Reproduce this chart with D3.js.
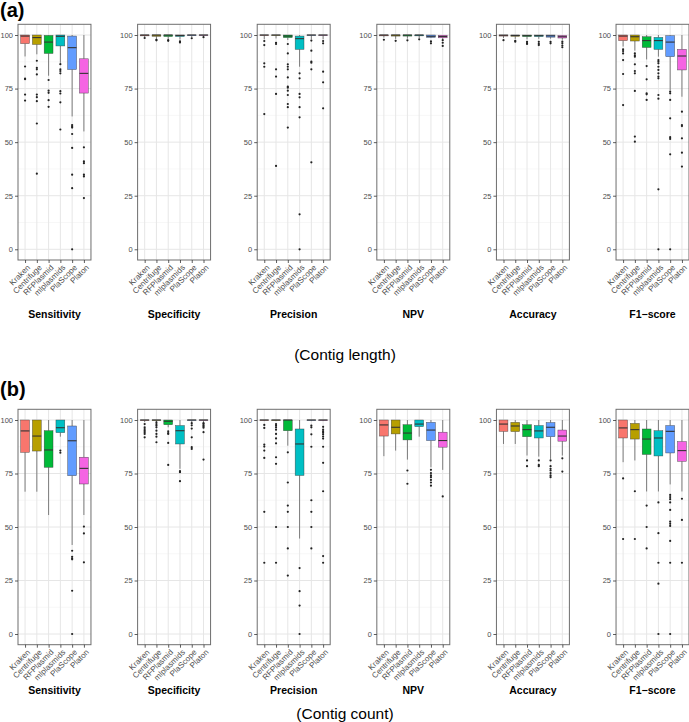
<!DOCTYPE html>
<html>
<head>
<meta charset="utf-8">
<script src="https://cdn.jsdelivr.net/npm/d3@7"></script>
<style>
  body { margin: 0; background: #fff; }
  text { font-family: "Liberation Sans", Arial, Helvetica, sans-serif; }
</style>
</head>
<body>
<script>
// ---------- categories ----------
const metrics = ["Sensitivity", "Specificity", "Precision", "NPV", "Accuracy", "F1\u2212score"];
const tools = ["Kraken", "Centrifuge", "RFPlasmid", "mlplasmids", "PlaScope", "Platon"];
const yTicks = [0, 25, 50, 75, 100];
const yMinor = [12.5, 37.5, 62.5, 87.5];
const toolColors = ["#F8766D", "#B79F00", "#00BA38", "#00BFC4", "#619CFF", "#F564E3"];

// ---------- (a) Contig length : [lowWhisker, Q1, median, Q3, highWhisker] per tool ----------
const lenSensStats = [[90,96,99.5,100,100],[91,95.6,98.8,100,100],[81,91.4,96.7,99.8,100],[87,94.9,99.4,100,100],[62,83.9,94.1,99.5,100],[55,72.9,82.1,88.9,100]];
const lenSensOut = [[85.3,79.7,79.4,72.2,69.4],[88,84.7,84,81.6,72.2,71,69.1,58.7,35.3],[79,74,73,69.6,66.5],[86.4,84,83.2,82.1,73.8,72.7,68.6,55.9],[58,57.4,56.8,53.8,47.3,34.8,28.5,0],[47.6,41,40.2,34.8,34,23.9]];

const lenSpecStats = [[98.9,99.6,100,100,100],[98.1,99.4,100,100,100],[98,99.3,100,100,100],[97.9,99.3,99.8,100,100],[98.9,99.7,100,100,100],[99.3,99.8,100,100,100]];
const lenSpecOut = [[98.6],[97.8,97.5],[97.6,97.3],[97,96.5],[98.5],[99.0]];

const lenPrecStats = [[98,99.8,100,100,100],[98.4,99.8,100,100,100],[97.7,98.8,99.5,100,100],[85.2,93.3,98.3,99.5,100],[98,99.8,100,100,100],[98,99.8,100,100,100]];
const lenPrecOut = [[97.2,95.3,86.8,85.2,63.1],[96.4,95.8,84,80.6,72.5,38.9],[95.8,91.4,86.3,85.2,84,80.2,75.9,75.4,74,72,67.8,66.3,56.8],[82.1,79.8,72.5,70.9,66.3,61.6,16.3,0],[97.4,92.7,87.6,87.1,84,40.6],[97.2,96.1,82.9,77.9,65.8]];

const lenNpvStats = [[98.8,99.6,100,100,100],[98.2,99.5,100,100,100],[98.3,99.5,100,100,100],[98.6,99.6,100,100,100],[98.6,98.9,99.4,100,100],[98,98.7,99.3,99.9,100]];
const lenNpvOut = [[97.8],[97.3],[97.5],[98],[97,96.1],[97.6,96.4,94.9]];

const lenAccStats = [[98.6,99.5,99.9,100,100],[98.2,99.4,99.8,100,100],[98,99.3,99.7,100,100],[98.2,99.3,99.7,100,100],[98.3,99.0,99.6,100,100],[97.8,98.6,99.2,99.8,100]];
const lenAccOut = [[97.6],[97.3,96.9],[96.8,96.2,95.8],[96.8,95.9,95.3],[96.8,96.1],[96.9,96.1,95.1,94.3]];

const lenF1Stats = [[94.6,97.4,99.5,100,100],[92.7,97.2,99.2,100,100],[88.6,94.2,97.4,99.2,100],[89.9,93.3,97.4,98.9,100],[74.3,89.9,96.7,99.7,100],[71.2,83.7,90.2,93.3,100]];
const lenF1Out = [[93.3,92.5,91.4,88.3,81.8,67.3],[91.4,90.5,89.9,86.3,83.2,82.1,73.9,52.6,50.2],[85.5,79.3,72.8,72.3,69.7],[88.3,87.6,86.8,85.2,83.7,82.1,80.6,79.8,72,70.3,28,0],[73.6,72.8,69.7,61.1,52.3,51.5,44.3,0],[64.2,58,57.5,51.8,45.1,38.6]];

// ---------- (b) Contig count ----------
const cntSensStats = [[66.5,84.9,94.9,100,100],[66.5,85.5,92.5,100,100],[55.6,77.9,86,95,100],[92.2,94.1,96.4,100,100],[41.6,74,90.3,97.2,100],[55.6,70.1,77.4,82.6,100]];
const cntSensOut = [[],[],[],[85.7,84.7],[38.9,36.1,35.4,34.9,20.2,0],[50.2,47,33.5]];

const cntSpecStats = [[99,99.8,100,100,100],[99,99.8,100,100,100],[96.6,97.8,99.4,100,100],[77.2,88.8,95,97.4,100],[99,99.8,100,100,100],[99,99.8,100,100,100]];
const cntSpecOut = [[98.1,96.6,95.8,95,94.3,93.5,91.9],[98.9,98.1,97.4,96.6,95,93.5,92.2,89.6],[94.7,93.9,93.5,89.3,79],[76.1,75.6,71.4],[98.5,97.5,96,91.9,87.3,86.5],[98.6,98.2,97.6,97,96.4,94.3,81.5]];

const cntPrecStats = [[99.5,99.8,100,100,100],[99.5,99.8,100,100,100],[88,95,100,100,100],[44.6,74.1,88.8,95.8,100],[99.5,99.8,100,100,100],[99.5,99.8,100,100,100]];
const cntPrecOut = [[97.7,96.3,88.5,87.6,85.7,82.3,57.1,33.3],[98.1,97.4,96.6,95.5,93.5,91.4,89.1,82.6,79.5,50,33.3],[84.9,70.8,60,57.1,50,40,27.3],[30.8,20,13.3,0],[97.4,96.6,93.3,87.5,62.5,57.1,50,40],[96.8,95.5,94.7,94.1,93.3,92.3,91.3,87.5,80,66.7,36.4,33.3]];

const cntNpvStats = [[83.1,92.5,97.7,100,100],[85.7,93.5,96.6,100,100],[81.5,90.7,93.9,97.8,100],[92.2,96.9,98.1,100,100],[77.9,90.4,95.3,98.9,100],[76.7,87.3,90.4,94.3,100]];
const cntNpvOut = [[],[],[76.4,70.2],[],[76.7,75.2,74.1,73.3,72,70.8,69.3],[64.3]];

const cntAccStats = [[88.8,94.7,98.1,100,100],[88.8,94.6,97.2,98.9,100],[83.4,92.2,95.5,97.8,100],[82.9,91.6,94.9,97.4,100],[81.8,92.2,96.6,98.8,100],[83.4,90.1,92.5,95.3,100]];
const cntAccOut = [[],[],[81.1,78.4],[81.1,79,78.4],[81.1,78.4,77.2,76.4,75.2,74.1,73.3],[82.1,75.9]];

const cntF1Stats = [[80.3,91.6,96.3,100,100],[81.1,91.1,95.5,98.4,100],[66.6,83.9,91.1,95.8,100],[66.6,83.2,91.6,95,100],[69.9,84.6,94.7,97.4,100],[66.6,80.7,85.7,89.9,100]];
const cntF1Out = [[72.7,44.4],[66.7,44.4],[60,50,40],[61.5,47.1,33.3,23.5,0],[65,64,63,61.5,58,52.5,51.5,50.5,43.5,33.3,0],[63.2,53.3,33.3]];

// ---------- layout ----------
const W = 689, H = 722;
const svg = d3.select("body").append("svg").attr("width", W).attr("height", H);

const groups = [
  { tag: "(a)", sub: "(Contig length)", top: 24.3, bottom: 260, tagY: 17, titleY: 318, subY: 360,
    stats: [lenSensStats, lenSpecStats, lenPrecStats, lenNpvStats, lenAccStats, lenF1Stats],
    outs:  [lenSensOut, lenSpecOut, lenPrecOut, lenNpvOut, lenAccOut, lenF1Out] },
  { tag: "(b)", sub: "(Contig count)", top: 409.3, bottom: 644.7, tagY: 396, titleY: 694, subY: 719,
    stats: [cntSensStats, cntSpecStats, cntPrecStats, cntNpvStats, cntAccStats, cntF1Stats],
    outs:  [cntSensOut, cntSpecOut, cntPrecOut, cntNpvOut, cntAccOut, cntF1Out] }
];

const fx = d3.scaleBand().domain(metrics).range([18, 689]).paddingInner(0.39).paddingOuter(0);
const pw = fx.bandwidth();
const x = d3.scalePoint().domain(tools).range([0, pw]).padding(0.6);
const boxW = x.step() * 0.75;
const color = d3.scaleOrdinal().domain(tools).range(toolColors);

groups.forEach(g => {
  const y = d3.scaleLinear().domain([-5, 105]).range([g.bottom, g.top]);
  const gg = svg.append("g");

  gg.append("text").attr("x", 0).attr("y", g.tagY)
    .attr("font-size", 20).attr("font-weight", "bold").attr("fill", "#000").text(g.tag);
  gg.append("text").attr("x", 345).attr("y", g.subY).attr("text-anchor", "middle")
    .attr("font-size", 15.5).attr("fill", "#000").text(g.sub);

  metrics.forEach((m, mi) => {
    const p = gg.append("g").attr("transform", `translate(${fx(m)},0)`);
    p.append("rect").attr("x", 0).attr("y", g.top).attr("width", pw).attr("height", g.bottom - g.top).attr("fill", "#fff");
    // grid
    p.selectAll(".gmin").data(yMinor).join("line")
      .attr("x1", 0).attr("x2", pw).attr("y1", d => y(d)).attr("y2", d => y(d))
      .attr("stroke", "#F2F2F2").attr("stroke-width", 0.6);
    p.selectAll(".gmaj").data(yTicks).join("line")
      .attr("x1", 0).attr("x2", pw).attr("y1", d => y(d)).attr("y2", d => y(d))
      .attr("stroke", "#E6E6E6").attr("stroke-width", 1);
    p.selectAll(".gv").data(tools).join("line")
      .attr("x1", d => x(d)).attr("x2", d => x(d)).attr("y1", g.top).attr("y2", g.bottom)
      .attr("stroke", "#E6E6E6").attr("stroke-width", 1);

    const st = g.stats[mi], ou = g.outs[mi];
    tools.forEach((t, ti) => {
      const [lo, q1, med, q3, hi] = st[ti];
      const cx = x(t);
      const b = p.append("g");
      b.append("line").attr("x1", cx).attr("x2", cx).attr("y1", y(hi)).attr("y2", y(q3))
        .attr("stroke", "#333").attr("stroke-width", 0.6);
      b.append("line").attr("x1", cx).attr("x2", cx).attr("y1", y(q1)).attr("y2", y(lo))
        .attr("stroke", "#333").attr("stroke-width", 0.6);
      b.append("rect").attr("x", cx - boxW / 2).attr("width", boxW)
        .attr("y", y(q3)).attr("height", Math.max(0, y(q1) - y(q3)))
        .attr("fill", color(t)).attr("stroke", "#333").attr("stroke-width", 0.5).attr("stroke-opacity", 0.8);
      b.append("line").attr("x1", cx - boxW / 2).attr("x2", cx + boxW / 2).attr("y1", y(med)).attr("y2", y(med))
        .attr("stroke", "#333").attr("stroke-width", 1.1);
      b.selectAll("circle").data(ou[ti]).join("circle")
        .attr("cx", cx).attr("cy", d => y(d)).attr("r", 1.1).attr("fill", "#222");
    });

    p.append("rect").attr("x", 0).attr("y", g.top).attr("width", pw).attr("height", g.bottom - g.top)
      .attr("fill", "none").attr("stroke", "#6E6E6E").attr("stroke-width", 1);

    // axes
    const ya = p.append("g").call(d3.axisLeft(y).tickValues(yTicks).tickSize(3).tickPadding(2));
    ya.select(".domain").remove();
    ya.selectAll(".tick line").attr("stroke", "#333").attr("stroke-width", 0.8);
    ya.selectAll(".tick text").attr("fill", "#4D4D4D").attr("font-size", 7.5)
      .style("font-family", "'Liberation Sans', Arial, sans-serif");

    const xa = p.append("g").attr("transform", `translate(0,${g.bottom})`)
      .call(d3.axisBottom(x).tickSize(3));
    xa.select(".domain").remove();
    xa.selectAll(".tick line").attr("stroke", "#333").attr("stroke-width", 0.8);
    xa.selectAll(".tick text").attr("fill", "#4D4D4D").attr("font-size", 8)
      .style("font-family", "'Liberation Sans', Arial, sans-serif")
      .attr("text-anchor", "end").attr("x", 0).attr("y", 0).attr("dy", "0.71em")
      .attr("transform", "translate(1,4) rotate(-45)");

    p.append("text").attr("x", pw / 2).attr("y", g.titleY).attr("text-anchor", "middle")
      .attr("font-size", 10.5).attr("font-weight", "bold").attr("fill", "#000").text(m);
  });
});
</script>
</body>
</html>
